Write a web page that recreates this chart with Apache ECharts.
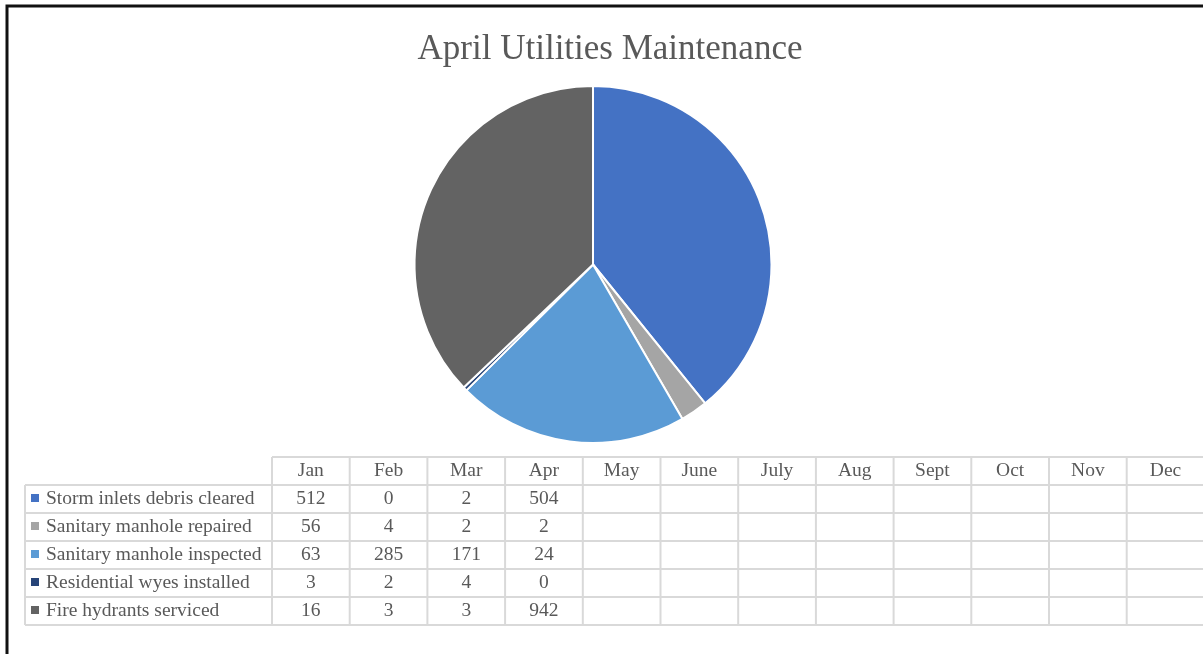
<!DOCTYPE html>
<html>
<head>
<meta charset="utf-8">
<title>April Utilities Maintenance</title>
<script src="https://cdn.jsdelivr.net/npm/echarts@6/dist/echarts.min.js"></script>
<style>
  html, body { margin: 0; padding: 0; background: #fff; }
  #chart { width: 1203px; height: 654px; }
</style>
</head>
<body>
<div id="chart"></div>
<script>
var months = ["Jan", "Feb", "Mar", "Apr", "May", "June", "July", "Aug", "Sept", "Oct", "Nov", "Dec"];
var categories = [
  "Storm inlets debris cleared",
  "Sanitary manhole repaired",
  "Sanitary manhole inspected",
  "Residential wyes installed",
  "Fire hydrants serviced"
];
var colors = ["#4472C4", "#A5A5A5", "#5B9BD5", "#264478", "#636363"];
// monthly values, Jan..Apr (rest of year still empty)
var stormInlets = [512, 0, 2, 504];
var manholeRepaired = [56, 4, 2, 2];
var manholeInspected = [63, 285, 171, 24];
var wyesInstalled = [3, 2, 4, 0];
var hydrantsServiced = [16, 3, 3, 942];
var rows = [stormInlets, manholeRepaired, manholeInspected, wyesInstalled, hydrantsServiced];

// pie = year to date total of each row
var pieData = rows.map(function(r, i) {
  var total = 0;
  r.forEach(function(v) { total += v; });
  return { name: categories[i], value: total, itemStyle: { color: colors[i] } };
});

var textColor = "#595959";
var lineColor = "#D9D9D9";
var font = "'Liberation Serif', 'Times New Roman', serif";
var cellFont = "19.5px " + font;

// data table layout
var tblLeft = 25;
var labelRight = 272;
var colW = 77.7;
var headTop = 457;
var rowH = 28;
var tblRight = labelRight + colW * months.length;
var tblBottom = headTop + rowH * (rows.length + 1);

var graphics = [];
// outer frame
graphics.push({
  type: "rect",
  shape: { x: 7, y: 6, width: 1220, height: 670 },
  style: { fill: "none", stroke: "#111", lineWidth: 3 }
});
// horizontal lines
graphics.push({
  type: "line",
  shape: { x1: labelRight, y1: headTop, x2: tblRight, y2: headTop },
  style: { stroke: lineColor, lineWidth: 2 }
});
for (var r = 1; r <= rows.length + 1; r++) {
  var y = headTop + r * rowH;
  graphics.push({
    type: "line",
    shape: { x1: tblLeft, y1: y, x2: tblRight, y2: y },
    style: { stroke: lineColor, lineWidth: 2 }
  });
}
// vertical lines
graphics.push({
  type: "line",
  shape: { x1: tblLeft, y1: headTop + rowH, x2: tblLeft, y2: tblBottom },
  style: { stroke: lineColor, lineWidth: 2 }
});
for (var c = 0; c <= months.length; c++) {
  var x = labelRight + c * colW;
  graphics.push({
    type: "line",
    shape: { x1: x, y1: headTop, x2: x, y2: tblBottom },
    style: { stroke: lineColor, lineWidth: 2 }
  });
}
// header texts
months.forEach(function(m, i) {
  graphics.push({
    type: "text",
    x: labelRight + colW * (i + 0.5),
    y: headTop + rowH / 2,
    style: {
      text: m, font: cellFont, fill: textColor,
      align: "center", verticalAlign: "middle"
    }
  });
});
// row labels, legend keys and values
rows.forEach(function(row, ri) {
  var cy = headTop + rowH * (ri + 1.5);
  graphics.push({
    type: "rect",
    shape: { x: 31, y: cy - 5, width: 8, height: 8 },
    style: { fill: colors[ri] }
  });
  graphics.push({
    type: "text",
    x: 46,
    y: cy,
    style: {
      text: categories[ri], font: cellFont, fill: textColor,
      align: "left", verticalAlign: "middle"
    }
  });
  row.forEach(function(v, ci) {
    graphics.push({
      type: "text",
      x: labelRight + colW * (ci + 0.5),
      y: cy,
      style: {
        text: String(v), font: cellFont, fill: textColor,
        align: "center", verticalAlign: "middle"
      }
    });
  });
});

var chart = echarts.init(document.getElementById("chart"));
var option = {
  backgroundColor: "#fff",
  animation: false,
  title: {
    text: "April Utilities Maintenance",
    left: 605,
    top: 27,
    textAlign: "center",
    textStyle: {
      fontFamily: font,
      fontSize: 35,
      fontWeight: "normal",
      color: textColor
    }
  },
  series: [
    {
      name: "YTD",
      type: "pie",
      center: [593, 264.5],
      radius: 178.5,
      startAngle: 90,
      clockwise: true,
      label: { show: false },
      labelLine: { show: false },
      itemStyle: { borderColor: "#fff", borderWidth: 2 },
      data: pieData
    }
  ],
  graphic: graphics
};
chart.setOption(option);
</script>
</body>
</html>
